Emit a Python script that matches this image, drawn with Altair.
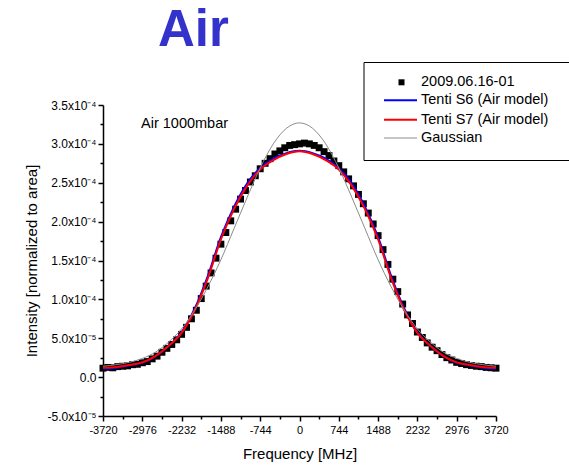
import altair as alt
import pandas as pd

# ---- data (intensity in units of 1e-4, frequency in MHz) ----
meas_f = [-3720, -3627, -3534, -3441, -3348, -3255, -3162, -3069, -2976, -2883,
          -2790, -2697, -2604, -2511, -2418, -2325, -2232, -2139, -2046, -1953,
          -1860, -1767, -1674, -1581, -1488, -1395, -1302, -1209, -1116, -1023,
          -930, -837, -744, -651, -558, -465, -372, -279, -186, -93,
          0, 93, 186, 279, 372, 465, 558, 651, 744, 837,
          930, 1023, 1116, 1209, 1302, 1395, 1488, 1581, 1674, 1767,
          1860, 1953, 2046, 2139, 2232, 2325, 2418, 2511, 2604, 2697,
          2790, 2883, 2976, 3069, 3162, 3255, 3348, 3441, 3534, 3627, 3720]
meas_v = [0.115, 0.125, 0.12, 0.135, 0.14, 0.145, 0.16, 0.165, 0.185, 0.20,
          0.235, 0.27, 0.32, 0.37, 0.42, 0.48, 0.55, 0.64, 0.75, 0.86,
          1.01, 1.17, 1.34, 1.53, 1.71, 1.86, 2.01, 2.16, 2.29, 2.40,
          2.51, 2.59, 2.68, 2.75, 2.81, 2.87, 2.91, 2.95, 2.98, 2.99,
          3.00, 3.01, 3.00, 2.98, 2.95, 2.90, 2.85, 2.78, 2.72, 2.64,
          2.55, 2.46, 2.35, 2.23, 2.11, 1.97, 1.82, 1.64, 1.45, 1.26,
          1.10, 0.94, 0.80, 0.69, 0.58, 0.51, 0.44, 0.385, 0.34, 0.29,
          0.25, 0.22, 0.19, 0.175, 0.16, 0.15, 0.14, 0.135, 0.125, 0.12, 0.115]

fit_f = [-3720, -3472, -3224, -2976, -2728, -2480, -2232, -1984, -1736, -1488,
         -1240, -992, -744, -496, -248, 0, 248, 496, 744, 992,
         1240, 1488, 1736, 1984, 2232, 2480, 2728, 2976, 3224, 3472, 3720]
s6_v = [0.11, 0.12, 0.15, 0.185, 0.265, 0.40, 0.58, 0.88, 1.30, 1.80,
        2.19, 2.49, 2.69, 2.81, 2.88, 2.91, 2.88, 2.81, 2.69, 2.49,
        2.19, 1.80, 1.30, 0.88, 0.58, 0.40, 0.265, 0.185, 0.15, 0.12, 0.11]
s7_v = [0.12, 0.13, 0.155, 0.19, 0.27, 0.40, 0.57, 0.86, 1.27, 1.77,
        2.16, 2.46, 2.67, 2.79, 2.87, 2.905, 2.87, 2.79, 2.67, 2.46,
        2.16, 1.77, 1.27, 0.86, 0.57, 0.40, 0.27, 0.19, 0.155, 0.13, 0.12]
gauss_v = [0.14, 0.16, 0.19, 0.24, 0.32, 0.45, 0.62, 0.86, 1.16, 1.51,
           1.91, 2.31, 2.69, 3.00, 3.20, 3.27, 3.20, 3.00, 2.69, 2.31,
           1.91, 1.51, 1.16, 0.86, 0.62, 0.45, 0.32, 0.24, 0.19, 0.16, 0.14]

x_major = [-3720, -2976, -2232, -1488, -744, 0, 744, 1488, 2232, 2976, 3720]
x_minor = [-3348, -2604, -1860, -1116, -372, 372, 1116, 1860, 2604, 3348]
y_major = [-0.5, 0.0, 0.5, 1.0, 1.5, 2.0, 2.5, 3.0, 3.5]
y_minor = [-0.25, 0.25, 0.75, 1.25, 1.75, 2.25, 2.75, 3.25]

legend_labels = ["2009.06.16-01", "Tenti S6 (Air model)", "Tenti S7 (Air model)", "Gaussian"]

FONT = "Liberation Sans"

meas = pd.DataFrame({"f": meas_f, "v": meas_v})
fits = pd.DataFrame({"f": fit_f, "s6": s6_v, "s7": s7_v, "g": gauss_v})

xs = alt.Scale(domain=[-3720, 3720], nice=False, zero=False)
ys = alt.Scale(domain=[-0.5, 3.5], nice=False, zero=False)

y_label_expr = ("datum.value == 0 ? '0.0' : datum.value == 0.5 ? '5.0x10⁻⁵' : "
                "datum.value == -0.5 ? '-5.0x10⁻⁵' : format(datum.value, '.1f') + 'x10⁻⁴'")

x_axis = alt.Axis(values=x_major, labelExpr="'' + datum.value", title="Frequency [MHz]",
                  orient="bottom", grid=False, tickSize=5, labelPadding=3, labelFontSize=11,
                  labelFlush=False, labelOverlap=False, titlePadding=11, titleFontSize=15)
y_axis = alt.Axis(values=y_major, labelExpr=y_label_expr, title="Intensity [normalized to area]",
                  orient="left", grid=False, tickSize=5, labelPadding=2, labelFontSize=12,
                  labelOverlap=False, titlePadding=8, titleFontSize=15)
x_axis_minor = alt.Axis(values=x_minor, labels=False, title=None, orient="bottom", grid=False,
                        tickSize=3, domain=False)
y_axis_minor = alt.Axis(values=y_minor, labels=False, title=None, orient="left", grid=False,
                        tickSize=3, domain=False)

points = alt.Chart(meas).mark_square(size=48, color="black", opacity=1).encode(
    x=alt.X("f:Q", scale=xs, axis=x_axis),
    y=alt.Y("v:Q", scale=ys, axis=y_axis),
)

minor = alt.Chart(meas).mark_point(opacity=0).encode(
    x=alt.X("f:Q", scale=xs, axis=x_axis_minor),
    y=alt.Y("v:Q", scale=ys, axis=y_axis_minor),
)

def fit_line(field, color, width):
    return alt.Chart(fits).mark_line(color=color, strokeWidth=width, interpolate="monotone").encode(
        x=alt.X("f:Q", scale=xs, axis=None),
        y=alt.Y(f"{field}:Q", scale=ys, axis=None),
    )

blue = fit_line("s6", "#0000FF", 2)
red = fit_line("s7", "#FF0000", 2)
gray = fit_line("g", "#8c8c8c", 1)

title_txt = alt.Chart(pd.DataFrame({"t": ["Air"]})).mark_text(
    font=FONT, fontSize=51, fontWeight="bold", color="#3333CC", align="left", baseline="alphabetic"
).encode(text="t:N", x=alt.value(55), y=alt.value(-59))

note_txt = alt.Chart(pd.DataFrame({"t": ["Air 1000mbar"]})).mark_text(
    font=FONT, fontSize=14.5, color="black", align="left", baseline="alphabetic"
).encode(text="t:N", x=alt.value(38), y=alt.value(23))

legend_box = alt.Chart(pd.DataFrame({"k": [0]})).mark_rect(
    fill="white", fillOpacity=0, stroke="black", strokeWidth=1
).encode(x=alt.value(261), x2=alt.value(470), y=alt.value(-42.5), y2=alt.value(55.5))

leg_sq = alt.Chart(pd.DataFrame({"k": [0]})).mark_square(size=36, color="black", opacity=1).encode(
    x=alt.value(298.5), y=alt.value(-22.7))

def leg_line(color, width, yy):
    return alt.Chart(pd.DataFrame({"k": [0]})).mark_rule(color=color, strokeWidth=width).encode(
        x=alt.value(281), x2=alt.value(314), y=alt.value(yy))

leg_lines = [leg_line("#0000FF", 2, -4.7), leg_line("#FF0000", 2, 14.7), leg_line("#8c8c8c", 1, 33)]

leg_rows = [-22.7, -4.7, 14.7, 33]
leg_texts = [
    alt.Chart(pd.DataFrame({"t": [lab]})).mark_text(
        font=FONT, fontSize=14.5, color="black", align="left", baseline="middle"
    ).encode(text="t:N", x=alt.value(318), y=alt.value(yy))
    for lab, yy in zip(legend_labels, leg_rows)
]

chart = alt.layer(
    points, minor, blue, red, gray, title_txt, note_txt, legend_box, leg_sq, *leg_lines, *leg_texts
).resolve_axis(x="independent", y="independent").properties(
    width=393, height=311, autosize="none",
    padding={"left": 103, "top": 105, "right": 73, "bottom": 54},
).configure_view(strokeWidth=0).configure_axis(
    domainColor="black", domainWidth=1.5, tickColor="black", tickWidth=1.5,
    labelFont=FONT, titleFont=FONT, labelColor="black", titleColor="black",
    titleFontWeight="normal",
)

chart.save("out.html", embed_options={"renderer": "svg", "actions": False})
